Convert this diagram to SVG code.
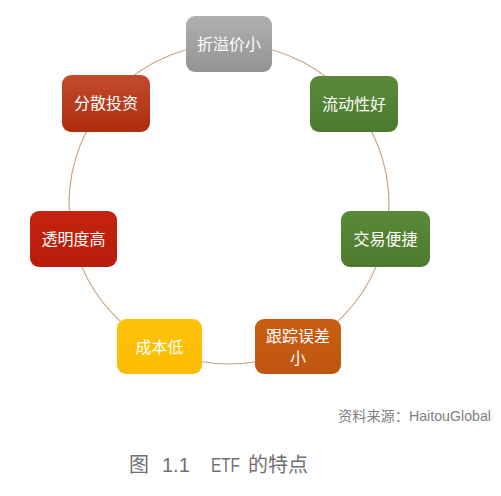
<svg xmlns="http://www.w3.org/2000/svg" width="501" height="496" viewBox="0 0 501 496">
<style>
.n{stroke:none}
.t{font-family:"Liberation Sans","Noto Sans CJK SC",sans-serif;font-size:16px;fill:#ffffff;text-anchor:middle}
.src{font-family:"Liberation Sans","Noto Sans CJK SC",sans-serif;font-size:14.2px;fill:#7f7f7f;text-anchor:end}
.cap{font-family:"Liberation Sans","Noto Sans CJK SC",sans-serif;font-size:20px;fill:#707070}
</style>
<defs>
<linearGradient id="gGray" x1="0" y1="0" x2="0" y2="1"><stop offset="0" stop-color="#b0b0b0"/><stop offset="1" stop-color="#939393"/></linearGradient>
<linearGradient id="gGreen" x1="0" y1="0" x2="0" y2="1"><stop offset="0" stop-color="#5a8a39"/><stop offset="1" stop-color="#4d7a2e"/></linearGradient>
<linearGradient id="gRedOr" x1="0" y1="0" x2="0" y2="1"><stop offset="0" stop-color="#c24c2f"/><stop offset="1" stop-color="#ad2c0c"/></linearGradient>
<linearGradient id="gRed" x1="0" y1="0" x2="0" y2="1"><stop offset="0" stop-color="#c4240f"/><stop offset="1" stop-color="#b81c0a"/></linearGradient>
<linearGradient id="gYel" x1="0" y1="0" x2="0" y2="1"><stop offset="0" stop-color="#ffc20a"/><stop offset="1" stop-color="#fbbc00"/></linearGradient>
<linearGradient id="gOr" x1="0" y1="0" x2="0" y2="1"><stop offset="0" stop-color="#c95e12"/><stop offset="1" stop-color="#c05510"/></linearGradient>
</defs>
<g id="connectors">
<circle cx="229" cy="204" r="160" fill="none" stroke="#c9a384" stroke-width="1.2"/>
</g>
<g id="node-zheyijia">
<rect class="n" x="186" y="16" width="86" height="56" rx="9" fill="url(#gGray)"/>
<text class="t" x="229" y="50">折溢价小</text>
</g>
<g id="node-liudongxing">
<rect class="n" x="310" y="76" width="88" height="56" rx="9" fill="url(#gGreen)"/>
<text class="t" x="354" y="110">流动性好</text>
</g>
<g id="node-jiaoyi">
<rect class="n" x="341" y="211" width="89" height="56" rx="9" fill="url(#gGreen)"/>
<text class="t" x="385.5" y="245">交易便捷</text>
</g>
<g id="node-genzong">
<rect class="n" x="255" y="319" width="86" height="55" rx="9" fill="url(#gOr)"/>
<text class="t" x="298" y="342">跟踪误差</text>
<text class="t" x="298" y="364">小</text>
</g>
<g id="node-chengben">
<rect class="n" x="117" y="319" width="85" height="55" rx="9" fill="url(#gYel)"/>
<text class="t" x="159.5" y="353">成本低</text>
</g>
<g id="node-touming">
<rect class="n" x="30" y="211" width="87" height="56" rx="9" fill="url(#gRed)"/>
<text class="t" x="73.5" y="245">透明度高</text>
</g>
<g id="node-fensan">
<rect class="n" x="62" y="75" width="88" height="57" rx="9" fill="url(#gRedOr)"/>
<text class="t" x="106" y="109">分散投资</text>
</g>
<text class="src" x="491" y="421">资料来源：HaitouGlobal</text>
<text class="cap" y="472"><tspan x="129">图</tspan><tspan x="162">1.1</tspan><tspan x="211" textLength="29" lengthAdjust="spacingAndGlyphs">ETF</tspan><tspan x="248">的特点</tspan></text>
</svg>
